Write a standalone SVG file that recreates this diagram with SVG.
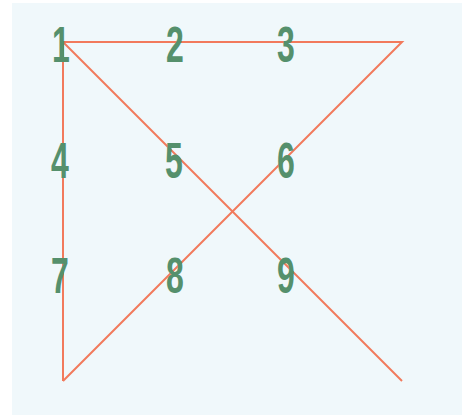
<svg xmlns="http://www.w3.org/2000/svg" width="462" height="415" viewBox="0 0 462 415">
<style>
.d{font-family:"Liberation Sans",Arial,sans-serif;font-weight:bold;font-size:50px;fill:#55906c;text-anchor:middle}
.l{stroke:#f27a5c;stroke-width:2;fill:none;stroke-linejoin:miter}
</style>
<rect x="0" y="0" width="462" height="415" fill="#ffffff"/>
<rect x="12" y="3" width="450" height="412" fill="#f0f8fb"/>
<g id="connectors">
<polyline class="l" points="63,381 63,42 402,42 63,381"/>
<line class="l" x1="63" y1="42" x2="402" y2="381"/>
</g>
<g id="n1"><text class="d" transform="translate(61,62) scale(0.64,1)">1</text></g>
<g id="n2"><text class="d" transform="translate(175,62) scale(0.64,1)">2</text></g>
<g id="n3"><text class="d" transform="translate(286,62) scale(0.64,1)">3</text></g>
<g id="n4"><text class="d" transform="translate(60,178) scale(0.64,1)">4</text></g>
<g id="n5"><text class="d" transform="translate(174,178) scale(0.64,1)">5</text></g>
<g id="n6"><text class="d" transform="translate(286,178) scale(0.64,1)">6</text></g>
<g id="n7"><text class="d" transform="translate(60,293) scale(0.64,1)">7</text></g>
<g id="n8"><text class="d" transform="translate(175,293) scale(0.64,1)">8</text></g>
<g id="n9"><text class="d" transform="translate(286,293) scale(0.64,1)">9</text></g>
</svg>
